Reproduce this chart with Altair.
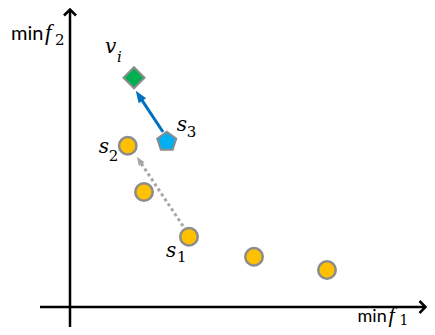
import math
import altair as alt
import pandas as pd

# ---- data (objective space, f1 / f2 units) ----
circle_f1 = [2.31, 2.96, 4.76, 7.36, 10.28]
circle_f2 = [6.45, 4.60, 2.81, 2.01, 1.48]
s3_f1, s3_f2 = [3.87], [6.61]
vi_f1, vi_f2 = [2.56], [9.17]
blue_from, blue_to = (3.72, 7.00), (2.63, 8.65)
gray_from, gray_to = (4.52, 3.24), (2.67, 6.01)
xaxis_from, xaxis_to = (-1.2, 0.0), (14.22, 0.0)
yaxis_from, yaxis_to = (0.0, -0.8), (0.0, 11.9)

PX = 25.0  # pixels per unit
W, H = 419, 319
X_DOM = [-2.48, -2.48 + W / PX]
Y_DOM = [11.96 - H / PX, 11.96]

xs = alt.Scale(domain=X_DOM, nice=False, zero=False)
ys = alt.Scale(domain=Y_DOM, nice=False, zero=False)


def X(f):
    return alt.X(f, type="quantitative", scale=xs, axis=None)


def Y(f):
    return alt.Y(f, type="quantitative", scale=ys, axis=None)


CHEVRON = "M-1,1L0,0L1,1"
ARROW = "M0,0L-0.75,2L0.75,2Z"
PENTAGON = "M0,-1L0.951,-0.309L0.588,0.809L-0.588,0.809L-0.951,-0.309Z"


def angle_of(a, b):
    dx, dy = b[0] - a[0], b[1] - a[1]
    return math.degrees(math.atan2(dx, dy)) % 360


def shorten(a, b, px):
    dx, dy = b[0] - a[0], b[1] - a[1]
    n = math.hypot(dx, dy)
    k = (px / PX) / n
    return (b[0] - dx * k, b[1] - dy * k)


layers = []

# axes
axes_df = pd.DataFrame({
    "x": [xaxis_from[0], yaxis_from[0]], "y": [xaxis_from[1], yaxis_from[1]],
    "x2": [xaxis_to[0], yaxis_to[0]], "y2": [xaxis_to[1], yaxis_to[1]],
})
layers.append(alt.Chart(axes_df).mark_rule(color="black", strokeWidth=2.5).encode(
    x=X("x"), y=Y("y"), x2="x2", y2="y2"))
chev_df = pd.DataFrame({
    "x": [xaxis_to[0], yaxis_to[0]], "y": [xaxis_to[1], yaxis_to[1]],
    "ang": [angle_of(xaxis_from, xaxis_to), angle_of(yaxis_from, yaxis_to)],
})
layers.append(alt.Chart(chev_df).mark_point(shape=CHEVRON, filled=False, size=144,
                                            stroke="black", strokeWidth=2.5, opacity=1).encode(
    x=X("x"), y=Y("y"), angle=alt.Angle("ang:Q", scale=None)))

# arrows
def arrow(a, b, color, width, head, dash=None):
    end = shorten(a, b, head - 2)
    df = pd.DataFrame({"x": [a[0]], "y": [a[1]], "x2": [end[0]], "y2": [end[1]]})
    kw = dict(color=color, strokeWidth=width)
    if dash:
        kw["strokeDash"] = dash
        kw["strokeCap"] = "butt"
    line = alt.Chart(df).mark_rule(**kw).encode(x=X("x"), y=Y("y"), x2="x2", y2="y2")
    hdf = pd.DataFrame({"x": [b[0]], "y": [b[1]], "ang": [angle_of(a, b)]})
    hd = alt.Chart(hdf).mark_point(shape=ARROW, filled=True, size=head * head, color=color,
                                   opacity=1, strokeWidth=0).encode(
        x=X("x"), y=Y("y"), angle=alt.Angle("ang:Q", scale=None))
    return [line, hd]


layers += arrow(gray_from, gray_to, "#A6A6A6", 3, 9, dash=[3, 3])
layers += arrow(blue_from, blue_to, "#0070C0", 3, 12)

# points
cdf = pd.DataFrame({"x": circle_f1, "y": circle_f2})
layers.append(alt.Chart(cdf).mark_point(shape="circle", filled=True, size=306, fill="#FFC000",
                                        stroke="#8C8C8C", strokeWidth=2.5, opacity=1).encode(
    x=X("x"), y=Y("y")))
pdf = pd.DataFrame({"x": s3_f1, "y": s3_f2})
layers.append(alt.Chart(pdf).mark_point(shape=PENTAGON, filled=True, size=400, fill="#00B0F0",
                                        stroke="#8C8C8C", strokeWidth=2, opacity=1).encode(
    x=X("x"), y=Y("y")))
ddf = pd.DataFrame({"x": vi_f1, "y": vi_f2})
layers.append(alt.Chart(ddf).mark_point(shape="diamond", filled=True, size=441, fill="#00B050",
                                        stroke="#8C8C8C", strokeWidth=2, opacity=1).encode(
    x=X("x"), y=Y("y")))

# text
SERIF = "DejaVu Serif"
FSERIF = "Liberation Serif"
SANS = "Lato"


def txt(x, y, t, dx, dy, size, font=SERIF, style="normal"):
    df = pd.DataFrame({"x": [x], "y": [y], "t": [t]})
    return alt.Chart(df).mark_text(align="left", baseline="alphabetic", dx=dx, dy=dy,
                                   fontSize=size, font=font, fontStyle=style,
                                   color="black").encode(x=X("x"), y=Y("y"), text="t:N")


# point labels: (anchor, letter, sub, letter offset, sub offset)
labels = [
    ((vi_f1[0], vi_f2[0]), "v", "i", (-29, -25), (-17, -16), "italic"),
    ((s3_f1[0], s3_f2[0]), "s", "3", (10, -11), (20, -5), "normal"),
    ((circle_f1[0], circle_f2[0]), "s", "2", (-29, 7), (-19, 15), "normal"),
    ((circle_f1[2], circle_f2[2]), "s", "1", (-23, 20), (-12, 25), "normal"),
]
for (ax, ay), letter, sub, (ldx, ldy), (sdx, sdy), sst in labels:
    layers.append(txt(ax, ay, letter, ldx, ldy, 20, style="italic"))
    layers.append(txt(ax, ay, sub, sdx, sdy, 15, style=sst))

# axis titles
layers.append(txt(yaxis_to[0], yaxis_to[1], "min", -59, 30.5, 20, font=SANS))
layers.append(txt(yaxis_to[0], yaxis_to[1], "f", -25, 30.5, 23, font=FSERIF, style="italic"))
layers.append(txt(yaxis_to[0], yaxis_to[1], "2", -15, 35, 15))
layers.append(txt(xaxis_to[0], xaxis_to[1], "min", -68, 15, 18, font=SANS))
layers.append(txt(xaxis_to[0], xaxis_to[1], "f", -37, 15, 22, font=FSERIF, style="italic"))
layers.append(txt(xaxis_to[0], xaxis_to[1], "1", -26, 17.5, 14))

chart = alt.layer(*layers).properties(
    width=W, height=H, padding=0, autosize=alt.AutoSizeParams(type="none"),
    background="white",
).configure_view(stroke=None)

chart.save("out.html", embed_options={"renderer": "svg", "actions": False})
